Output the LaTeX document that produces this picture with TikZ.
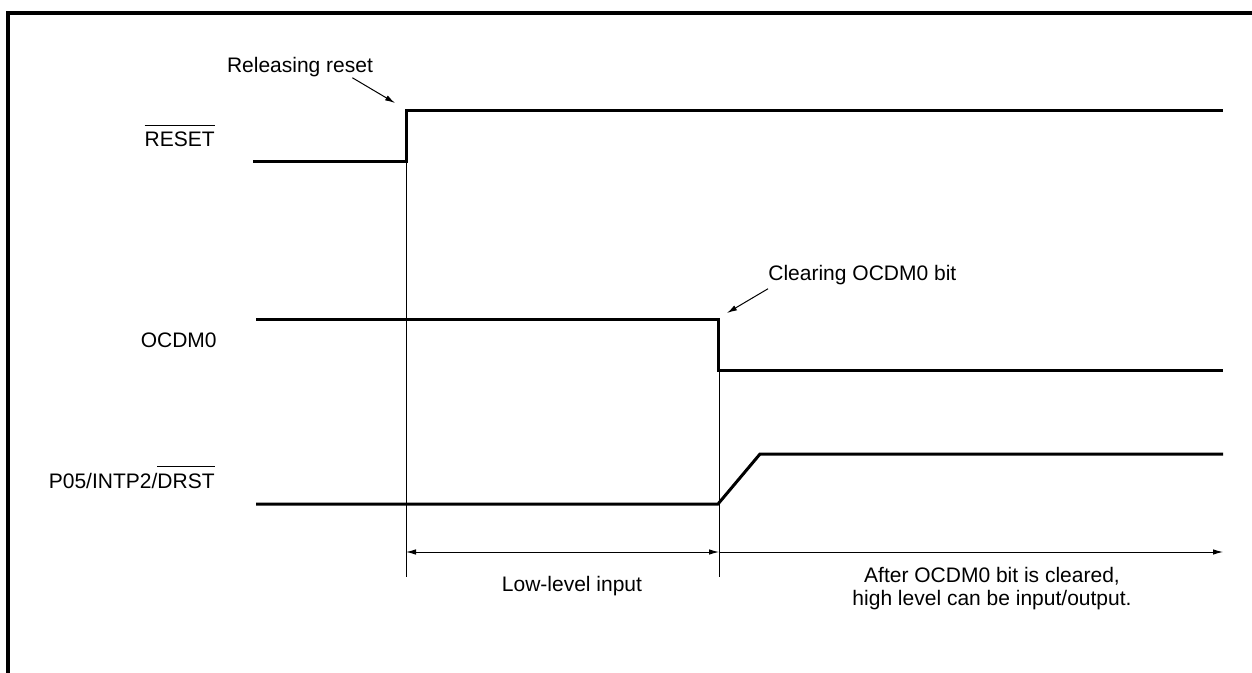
\documentclass[tikz,border=0pt]{standalone}
\usepackage{fontspec}
\setmainfont{Liberation Sans}
\usetikzlibrary{arrows.meta}

\newcommand{\ovl}[1]{$\overline{\mbox{\rule{0pt}{9.6pt}#1}}$}

\begin{document}
\begin{tikzpicture}[x=0.5pt, y=-0.5pt,
    font=\fontsize{10.5}{11.5}\selectfont,
    signal/.style={line width=1.5pt},
    guide/.style={line width=0.5pt},
    label/.style={inner sep=0pt},
    >={Latex[length=5pt,width=2.8pt]}]
    \useasboundingbox (0,0) rectangle (1252,673);

    % Frame
    \draw[line width=1.6pt] (8,673) -- (8,13) -- (1252,13);

    % Signal names
    \node[label, anchor=base east] (reset) at (215,147) {\ovl{RESET}};
    \node[label, anchor=base east] (ocdm) at (217,348) {OCDM0};
    \node[label, anchor=base east] (drst) at (215,488) {P05/INTP2/\ovl{DRST}};

    % Waveforms
    \draw[signal] (253,162) -- (406,162) -- (406,111) -- (1223,111);
    \draw[signal] (256,320) -- (718,320) -- (718,371) -- (1223,371);
    \draw[signal] (256,504) -- (718,504) -- (760,454) -- (1223,454);

    % Timing marks
    \coordinate (tReset) at (406,552);
    \coordinate (tClear) at (719,552);
    \coordinate (tEnd) at (1223,552);
    \draw[guide] (406,162) -- (406,577);
    \draw[guide] (719,371) -- (719,577);

    % Annotations
    \node[label, anchor=base] (rel) at (300,73) {Releasing reset};
    \coordinate (relpt) at (395,103);
    \draw[guide,->] ([xshift=-10.5pt]rel.south east) -- (relpt);

    \node[label, anchor=base west] (clr) at (768,281) {Clearing OCDM0 bit};
    \coordinate (clrpt) at (727,313);
    \draw[guide,->] ([yshift=-1.5pt]clr.south west) -- (clrpt);

    % Intervals
    \draw[guide,<->] (tReset) -- (tClear);
    \draw[guide,->] (tClear) -- (tEnd);
    \node[label, anchor=base] (low) at (572,591) {Low-level input};
    \node[label, anchor=north, align=center] (after) at (992,567)
        {After OCDM0 bit is cleared,\\high level can be input/output.};
\end{tikzpicture}
\end{document}
